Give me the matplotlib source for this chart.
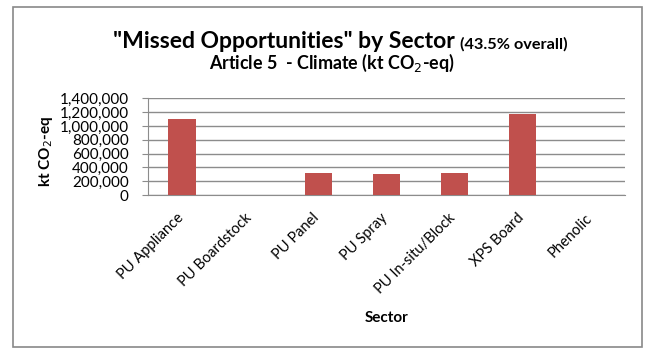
import matplotlib.pyplot as plt
from matplotlib.patches import Rectangle
from matplotlib.ticker import FuncFormatter
from matplotlib.transforms import ScaledTranslation

plt.rcParams['font.family'] = ['Lato', 'DejaVu Sans']

sectors = ['PU Appliance', 'PU Boardstock', 'PU Panel', 'PU Spray',
           'PU In-situ/Block', 'XPS Board', 'Phenolic']
missed_kt = [1100000, 0, 325000, 300000, 315000, 1180000, 0]
y_ticks = [0, 200000, 400000, 600000, 800000, 1000000, 1200000, 1400000]

bar_color = '#C0504D'
grid_color = '#8C8C8C'

fig = plt.figure(figsize=(6.52, 3.54), dpi=100)
ax = fig.add_axes([0.227, 0.449, 0.731, 0.273])

x = range(len(sectors))
ax.bar(x, missed_kt, width=0.4, color=bar_color, zorder=3)

ax.set_xlim(-0.5, len(sectors) - 0.5)
ax.set_ylim(0, 1400000)
ax.set_yticks(y_ticks)
ax.yaxis.set_major_formatter(FuncFormatter(lambda v, p: f'{int(v):,}'))
ax.grid(axis='y', color=grid_color, linewidth=1, zorder=0)
ax.set_axisbelow(True)

for side in ['top', 'right']:
    ax.spines[side].set_visible(False)
for side in ['left', 'bottom']:
    ax.spines[side].set_color(grid_color)

ax.tick_params(axis='y', length=4, color=grid_color, labelsize=11, pad=10)
ax.tick_params(axis='x', length=0, labelsize=10.5, pad=11.5)
ax.set_xticks(list(x))
ax.set_xticklabels(sectors, rotation=45, ha='right', rotation_mode='anchor')
shift = ScaledTranslation(-6 / 100, 0, fig.dpi_scale_trans)
for lbl in ax.get_xticklabels():
    lbl.set_transform(lbl.get_transform() + shift)

ax.set_ylabel('kt CO$_2$-eq', fontsize=11, fontweight='bold')
ax.yaxis.set_label_coords(-0.195, 0.45)
ax.set_xlabel('Sector', fontsize=11, fontweight='bold')
ax.xaxis.set_label_coords(0.5, -1.27)
ax.xaxis.label.set_va('center')

# chart titles
fig.text(455 / 652, 0.864, '"Missed Opportunities" by Sector', fontsize=16.5,
         fontweight='bold', ha='right', va='baseline')
fig.text(460 / 652, 0.864, '(43.5% overall)', fontsize=11.7,
         fontweight='bold', ha='left', va='baseline')
fig.text(332 / 652, 0.805, 'Article 5  - Climate (kt CO$_2$-eq)', fontsize=12.9,
         fontweight='bold', ha='center', va='baseline')

# outer chart border
fig.patches.append(Rectangle((13 / 652, 7 / 354), 629 / 652, 340 / 354,
                             transform=fig.transFigure, fill=False,
                             edgecolor='#898989', linewidth=1.2))

fig.savefig('out.png', dpi=100)
